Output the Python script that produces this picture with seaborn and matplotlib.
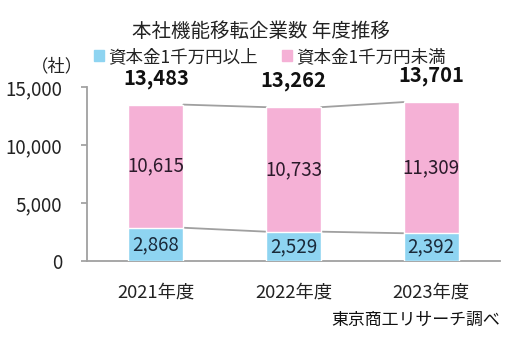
import matplotlib
matplotlib.use("Agg")
import matplotlib.pyplot as plt
import seaborn as sns
import pandas as pd
from matplotlib.patches import Patch

categories = ["2021年度", "2022年度", "2023年度"]
large_cap = [2868, 2529, 2392]      # 資本金1千万円以上
small_cap = [10615, 10733, 11309]   # 資本金1千万円未満
totals = [a + b for a, b in zip(large_cap, small_cap)]
series_names = ["資本金1千万円以上", "資本金1千万円未満"]
title = "本社機能移転企業数 年度推移"
y_ticks = [0, 5000, 10000, 15000]

sns.set_theme(style="white")
plt.rcParams['font.family'] = ['Noto Sans CJK JP', 'DejaVu Sans']

CYAN = "#8ED4F1"
PINK = "#F5B1D6"
GRAY = "#A0A0A0"

df = pd.DataFrame({"cat": categories, "large": large_cap, "small": small_cap, "total": totals})

fig = plt.figure(figsize=(5.32, 3.4), dpi=100)
ax = fig.add_axes([87/532, 1-261/340, (500-87)/532, 174/340])

sns.barplot(data=df, x="cat", y="total", color=PINK, saturation=1, width=0.4, ax=ax, zorder=2)
sns.barplot(data=df, x="cat", y="large", color=CYAN, saturation=1, width=0.4, ax=ax, zorder=3)

patches = ax.patches
top_bars = patches[:3]
bot_bars = patches[3:6]

# connector lines
for bars, vals in ((top_bars, totals), (bot_bars, large_cap)):
    for i in range(len(bars) - 1):
        x0 = bars[i].get_x() + bars[i].get_width()
        x1 = bars[i + 1].get_x()
        ax.plot([x0, x1], [vals[i], vals[i + 1]], color=GRAY, lw=1.3, zorder=1)

for i, b in enumerate(top_bars):
    xc = b.get_x() + b.get_width() / 2
    ax.annotate(f"{totals[i]:,}", (xc, totals[i]), xytext=(0, 19), textcoords="offset points",
                ha="center", va="center", fontsize=14.5, fontweight="bold", color="#111111",
                annotation_clip=False)
    ax.text(xc, large_cap[i] + small_cap[i] / 2, f"{small_cap[i]:,}", ha="center", va="center",
            fontsize=13.5, color="#2a1a2a", zorder=4)
    ax.text(xc, large_cap[i] / 2, f"{large_cap[i]:,}", ha="center", va="center",
            fontsize=13.5, color="#1a2a3a", zorder=4)

ax.set_xlim(-0.5, 2.5)
ax.set_ylim(0, 15000)
ax.set_yticks(y_ticks)
ax.set_yticklabels([f"{v:,}" for v in y_ticks])
ax.set_xlabel("")
ax.set_ylabel("")
for s in ["top", "right"]:
    ax.spines[s].set_visible(False)
for s in ["left", "bottom"]:
    ax.spines[s].set_color(GRAY)
    ax.spines[s].set_linewidth(1.3)
ax.tick_params(axis="y", left=True, length=4, color=GRAY, labelsize=13.5, pad=14, labelcolor="#222222")
ax.tick_params(axis="x", bottom=False, labelsize=13.2, pad=10, labelcolor="#222222")

fig.text(0.49, 1 - 31/340, title, ha="center", va="center", fontsize=14, color="#222222")
handles = [Patch(color=CYAN), Patch(color=PINK)]
fig.legend(handles, series_names, loc="center", bbox_to_anchor=(0.507, 1 - 57/340), ncol=2,
           frameon=False, fontsize=12.6, handlelength=0.6, handleheight=0.6, handletextpad=0.2,
           columnspacing=1.4, labelcolor="#222222")
fig.text(57/532, 1 - 66/340, "（社）", ha="center", va="center", fontsize=12.5, color="#222222")
fig.text(500/532, 1 - 320/340, "東京商工リサーチ調べ", ha="right", va="center", fontsize=12.2, color="#111111")

fig.savefig("out.png", dpi=100)
